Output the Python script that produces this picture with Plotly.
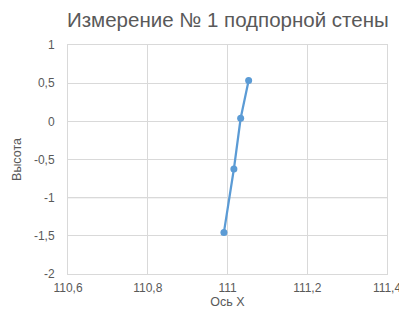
import plotly.graph_objects as go

x_vals = [110.991, 111.016, 111.033, 111.053]
y_vals = [-1.455, -0.625, 0.04, 0.535]
x_ticks = [110.6, 110.8, 111.0, 111.2, 111.4]
x_tick_labels = ["110,6", "110,8", "111", "111,2", "111,4"]
y_ticks = [-2, -1.5, -1, -0.5, 0, 0.5, 1]
y_tick_labels = ["-2", "-1,5", "-1", "-0,5", "0", "0,5", "1"]
axis_cross_y = -1

txt = "#595959"
grid = "#D9D9D9"
fnt = "Liberation Sans"

fig = go.Figure()
fig.add_trace(go.Scatter(x=x_vals, y=y_vals, mode="lines+markers",
                         line=dict(color="#5B9BD5", width=2.25),
                         marker=dict(color="#5B9BD5", size=7),
                         showlegend=False, cliponaxis=False))
fig.add_shape(type="line", xref="paper", x0=0, x1=1, yref="y",
              y0=axis_cross_y, y1=axis_cross_y,
              line=dict(color="#B0B0B0", width=1), layer="below")
fig.update_layout(
    width=399, height=308,
    margin=dict(l=60, r=20, t=37, b=42),
    paper_bgcolor="white", plot_bgcolor="white",
    title=dict(text="Измерение № 1 подпорной стены", x=0.551, xref="container",
               xanchor="center", y=0.96, yanchor="middle",
               font=dict(family=fnt, size=20.5, color=txt)),
    font=dict(family=fnt, color=txt),
    xaxis=dict(range=[110.6, 111.4], tickvals=x_ticks, ticktext=x_tick_labels,
               showgrid=True, gridcolor=grid, gridwidth=1,
               showline=True, linecolor=grid, linewidth=1, mirror=True,
               zeroline=False, ticks="", automargin=False, ticklabelstandoff=3,
               tickfont=dict(size=12, color=txt),
               title=dict(text="Ось X", font=dict(size=12.5, color=txt), standoff=2)),
    yaxis=dict(range=[-2, 1], tickvals=y_ticks, ticktext=y_tick_labels,
               showgrid=True, gridcolor=grid, gridwidth=1,
               showline=True, linecolor=grid, linewidth=1, mirror=True,
               zeroline=False, ticks="", automargin=False, ticklabelstandoff=10,
               tickfont=dict(size=12, color=txt),
               title=dict(text="Высота", font=dict(size=12.5, color=txt), standoff=9)),
)
fig.write_html("out.html")
